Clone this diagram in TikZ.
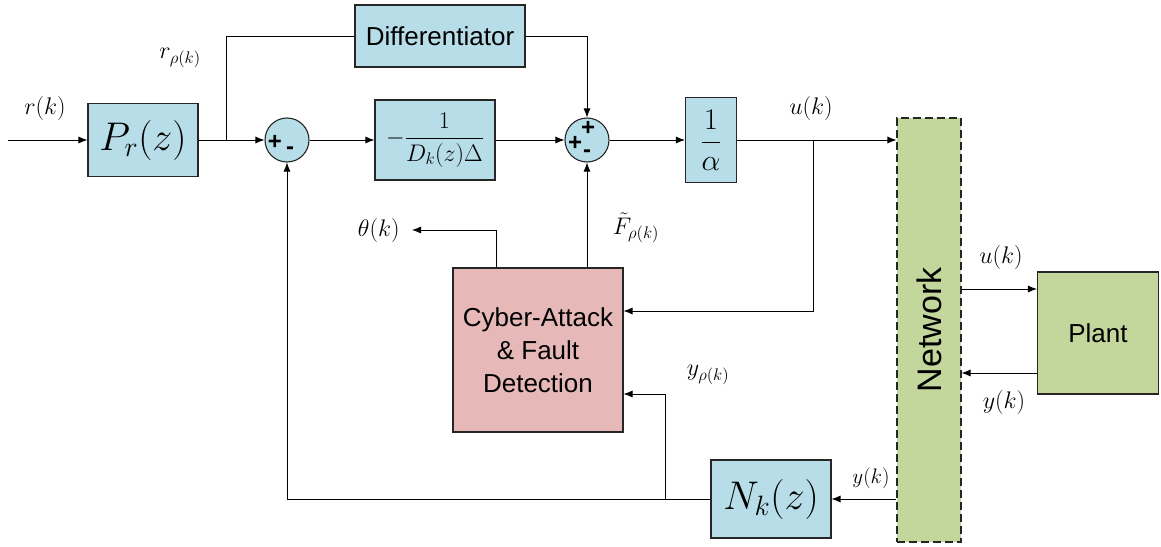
\RequirePackage{fix-cm}
\documentclass[tikz,border=0pt]{standalone}
\usepackage{amsmath}
\usepackage[no-math]{fontspec}
\newfontfamily\arialfont{Liberation Sans}
\usepackage{tikz}
\usetikzlibrary{positioning,arrows.meta}
\definecolor{blkblue}{RGB}{183,221,232}
\definecolor{blkred}{RGB}{230,185,184}
\definecolor{blkgreen}{RGB}{195,214,155}

\begin{document}
\begin{tikzpicture}[x=1pt,y=-1pt,
  >={Latex[length=9pt,width=7pt]},line width=0.8pt,
  blk/.style={draw=black!85,line width=1.1pt,fill=blkblue,inner sep=0pt},
  sumnode/.style={circle,draw=black!85,line width=1.1pt,fill=blkblue,minimum size=44pt,inner sep=0pt},
  sgn/.style={font=\arialfont\bfseries\fontsize{24}{24}\selectfont,inner sep=0pt},
  lbl/.style={font=\fontsize{24}{28}\selectfont,inner sep=0pt},
  sans/.style={font=\arialfont\fontsize{26}{33}\selectfont,align=center}]
  \useasboundingbox (0,0) rectangle (1161,546);

  % forward path
  \coordinate (in) at (8,140);
  \node[blk,minimum width=110pt,minimum height=73pt,font=\fontsize{40}{44}\selectfont] (P) at (143,140) {$P_{r}(z)$};
  \node[sumnode] (s1) at (287,140) {};
  \node[blk,minimum width=120pt,minimum height=80pt,font=\fontsize{24}{28}\selectfont] (D) at (435,140) {$-\dfrac{1}{D_{k}(z)\Delta}$};
  \node[blk,minimum width=170pt,minimum height=62pt,sans] (diff) at (440,36) {Differentiator};
  \node[sumnode] (s2) at (587,140) {};
  \node[blk,minimum width=51pt,minimum height=85pt,font=\fontsize{30}{34}\selectfont] (alpha) at (711,140) {$\dfrac{1}{\alpha}$};

  % summing signs
  \node[sgn] (s1p) at ([shift={(-12,2)}]s1) {+};
  \node[sgn] (s1m) at ([shift={(3,11)}]s1) {-};
  \node[sgn] (s2t) at ([shift={(1,-12)}]s2) {+};
  \node[sgn] (s2l) at ([shift={(-12,3)}]s2) {+};
  \node[sgn] (s2m) at ([shift={(0,14)}]s2) {-};

  % network, plant, detector, output filter
  \node[draw=black!85,line width=1.1pt,dash pattern=on 8pt off 4pt,fill=blkgreen,minimum width=64pt,minimum height=424pt] (net) at (929,330) {};
  \node[font=\arialfont\fontsize{34}{34}\selectfont,rotate=90] (netlbl) at (net) {Network};
  \node[blk,fill=blkgreen,minimum width=121pt,minimum height=122pt,sans] (plant) at (1098,333) {Plant};
  \node[blk,fill=blkred,minimum width=170pt,minimum height=164pt,sans] (cyber) at (538,350) {Cyber-Attack\\\& Fault\\Detection};
  \node[blk,minimum width=120pt,minimum height=78pt,font=\fontsize{40}{44}\selectfont] (N) at (771,499) {$N_{k}(z)$};

  % signal labels
  \node[lbl] (rk) at (45,108) {$r(k)$};
  \node[lbl] (rrho) at (180,58) {$r_{\rho(k)}$};
  \node[lbl] (uk) at (811,108) {$u(k)$};
  \node[lbl,anchor=east] (theta) at (400,230) {$\theta(k)$};
  \node[lbl] (Ft) at (636,228) {$\tilde{F}_{\rho(k)}$};
  \node[lbl] (yrho) at (708,375) {$y_{\rho(k)}$};
  \node[lbl] (uk2) at (1001,257) {$u(k)$};
  \node[lbl] (yk2) at (1004,402) {$y(k)$};
  \node[lbl,font=\fontsize{21}{24}\selectfont] (yk1) at (871,478) {$y(k)$};

  % connectors
  \draw[->] (in) -- (P);
  \draw[->] (P) -- (s1);
  \coordinate (b1) at (226,140);
  \draw (b1) |- (diff);
  \draw[->] (diff) -| (s2);
  \draw[->] (s1) -- (D);
  \draw[->] (D) -- (s2);
  \draw[->] (s2) -- (alpha);
  \draw[->] (alpha) -- (alpha -| net.west);
  \coordinate (b2) at (813,140);
  \draw[->] (b2) |- ([yshift=39pt]cyber.east);

  \path ([yshift=44pt]plant.west) coordinate (pu) ([yshift=-40pt]plant.west) coordinate (py);
  \draw[->] (pu -| net.east) -- (pu);
  \draw[->] (py) -- (py -| net.east);
  \draw[->] (net.west |- N) -- (N);
  \draw[->] (N) -| (s1);
  \coordinate (b3) at (665,499);
  \draw[->] (b3) |- ([yshift=-44pt]cyber.east);
  \draw[->] ([xshift=-42pt]cyber.north) |- ([xshift=12pt]theta.east);
  \draw[->] (cyber.north -| s2) -- (s2);
\end{tikzpicture}
\end{document}
